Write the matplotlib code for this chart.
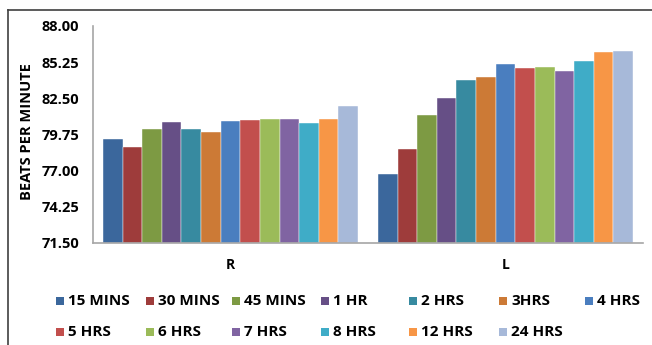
import matplotlib
matplotlib.use("Agg")
import matplotlib.pyplot as plt
import numpy as np
from matplotlib.patches import Rectangle
from matplotlib.lines import Line2D

plt.rcParams['font.family'] = ['Open Sans', 'DejaVu Sans']
plt.rcParams['font.weight'] = 'bold'

categories = ["R", "L"]
series_names = ["15 MINS", "30 MINS", "45 MINS", "1 HR", "2 HRS", "3HRS", "4 HRS",
                "5 HRS", "6 HRS", "7 HRS", "8 HRS", "12 HRS", "24 HRS"]
r_values = [79.41, 78.82, 80.14, 80.67, 80.17, 79.94, 80.80,
            80.85, 80.93, 80.93, 80.62, 80.90, 81.92]
l_values = [76.77, 78.65, 81.21, 82.52, 83.87, 84.15, 85.11,
            84.83, 84.91, 84.60, 85.34, 86.02, 86.10]
colors = ["#3B679C", "#9E3C3B", "#7D9A43", "#664F86", "#378AA0", "#CC7A36", "#4A7EBF",
          "#C24F4D", "#9BBB59", "#8064A2", "#3FACC7", "#F79646", "#A7B9D9"]
yticks = [71.50, 74.25, 77.00, 79.75, 82.50, 85.25, 88.00]

W, H = 652, 345
fig = plt.figure(figsize=(W / 100, H / 100), dpi=100)
ax = fig.add_axes([93 / W, 1 - 243 / H, 550 / W, 217 / H])

n = len(series_names)
x = np.arange(len(categories))
width = 0.927 / n
for i, name in enumerate(series_names):
    vals = [r_values[i], l_values[i]]
    offs = (i - (n - 1) / 2) * width
    ax.bar(x + offs, [v - yticks[0] for v in vals], width, bottom=yticks[0],
           color=colors[i], edgecolor="#ffffff", linewidth=0.3, label=name)

ax.set_xlim(-0.5, 1.5)
ax.set_ylim(yticks[0], yticks[-1])
ax.set_yticks(yticks)
ax.set_yticklabels([f"{t:.2f}" for t in yticks], fontsize=10.5, fontweight="bold")
ax.set_xticks(x)
ax.set_xticklabels(categories, fontsize=10, fontweight="bold")
ax.tick_params(axis="both", length=0)
ax.tick_params(axis="y", pad=10)
ax.tick_params(axis="x", pad=11)
ax.set_ylabel("BEATS PER MINUTE", fontsize=10.5, fontweight="bold")
ax.yaxis.set_label_coords(34 / W, 1 - 132 / H, transform=fig.transFigure)
for s in ["top", "right"]:
    ax.spines[s].set_visible(False)
for s in ["left", "bottom"]:
    ax.spines[s].set_color("#A6A6A6")
    ax.spines[s].set_linewidth(1.2)

# Legend laid out in an even grid, seven entries per row
col_x = [56, 146, 232, 321, 409, 499, 585]
row_y = [301, 332]
for i, name in enumerate(series_names):
    r, c = divmod(i, 7)
    px, py = col_x[c], row_y[r]
    fig.add_artist(Rectangle((px / W, 1 - (py + 4) / H), 8 / W, 8 / H,
                             transform=fig.transFigure, color=colors[i], lw=0))
    fig.text((px + 12) / W, 1 - py / H, name, fontsize=11, fontweight="bold",
             va="center", ha="left")

# Outer chart border
fig.add_artist(Line2D([8 / W, 8 / W], [0, 1 - 10 / H], transform=fig.transFigure,
                      color="#404040", lw=1.2))
fig.add_artist(Line2D([8 / W, 1], [1 - 10 / H, 1 - 10 / H], transform=fig.transFigure,
                      color="#404040", lw=1.2))

fig.savefig("out.png", dpi=100)
